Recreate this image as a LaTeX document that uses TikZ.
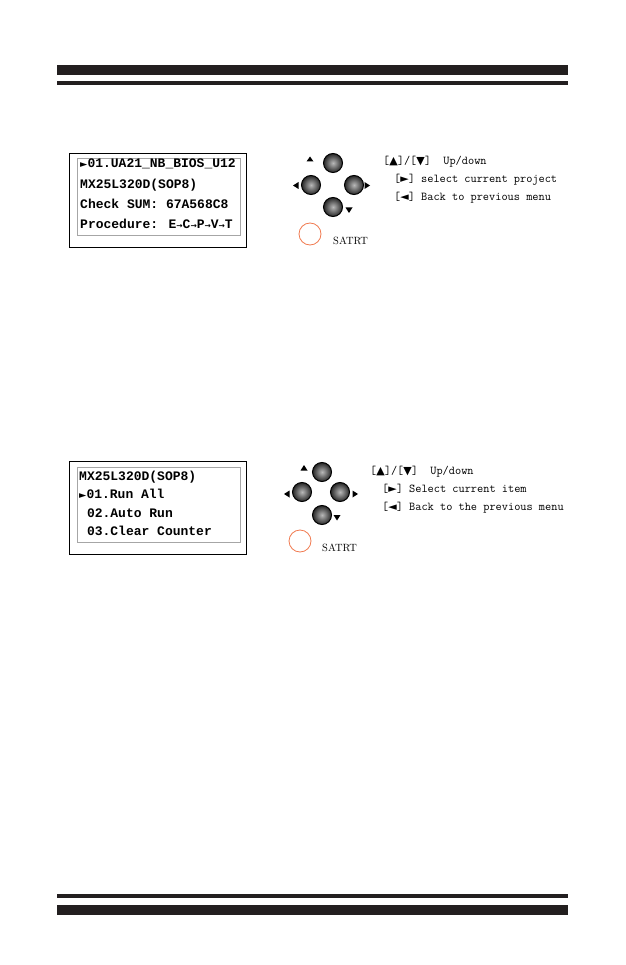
\documentclass[tikz,border=0pt]{standalone}
\usepackage{fontspec}
\newfontfamily\boxfont{Liberation Mono}
\newfontfamily\symfont{DejaVu Sans}
\definecolor{barc}{HTML}{231F20}
\definecolor{startc}{HTML}{F07A50}
\newcommand{\tri}[1]{{\symfont\fontsize{11}{11}\selectfont #1}}
\newcommand{\ltri}[1]{{\symfont\fontsize{9.5}{9.5}\selectfont #1}}
\newcommand{\arr}{{\symfont\bfseries\fontsize{7.5}{7.5}\selectfont\raisebox{0.8pt}{→}}}
\tikzset{
  bar/.style={fill=barc, draw=none},
  lcd/.style={anchor=base west, inner sep=0pt, font=\boxfont\bfseries\fontsize{13}{14}\selectfont},
  help/.style={anchor=base west, inner sep=0pt, font=\ttfamily\fontsize{12}{14}\selectfont},
  btn/.style={circle, minimum size=19pt, inner sep=0pt, draw=black, line width=1pt, inner color=gray!55, outer color=black!85},
  startbtn/.style={circle, minimum size=22pt, inner sep=0pt, draw=startc, line width=0.8pt},
  tip/.style={fill=black, draw=none},
  outbox/.style={draw=black, line width=0.9pt},
  inbox/.style={draw=gray!70, line width=0.7pt},
  satrt/.style={anchor=base west, inner sep=0pt, font=\rmfamily\fontsize{10.5}{12}\selectfont}
}
\begin{document}
\begin{tikzpicture}[x=1pt,y=-1pt]
\useasboundingbox (0,0) rectangle (625,965);
% header / footer bars
\fill[bar] (57,65) rectangle (568,75);
\fill[bar] (57,81.5) rectangle (568,85.5);
\fill[bar] (57,894) rectangle (568,898);
\fill[bar] (57,905) rectangle (568,915);

% ---------- panel 1 ----------
\draw[outbox] (69,153) rectangle (246,247);
\draw[inbox] (77,158) rectangle (240,235);
\node[lcd] (a1) at (80,168) {\ltri{►}01.UA21\_NB\_BIOS\_U12};
\node[lcd] (a2) at (80,189) {MX25L320D(SOP8)};
\node[lcd] (a3) at (80,209) {Check SUM: 67A568C8};
\node[lcd] (a4) at (80,229) {Procedure: E\arr C\arr P\arr V\arr T};

\node[btn] (u1) at (333,163) {};
\node[btn] (l1) at (311,185) {};
\node[btn] (r1) at (354,185) {};
\node[btn] (d1) at (333,207) {};
\fill[tip] (310,156.5) -- (313.5,161.5) -- (306.5,161.5) -- cycle;
\fill[tip] (293,185.5) -- (298.5,182) -- (298.5,189) -- cycle;
\fill[tip] (370,185.5) -- (364.5,182) -- (364.5,189) -- cycle;
\fill[tip] (345.5,207.5) -- (352.5,207.5) -- (349,213) -- cycle;
\node[startbtn] (s1) at (310,234) {};
\node[satrt] (t1) at (333,245) {SATRT};

\node[help] (h11) at (383,165) {[\tri{▲}]/[\tri{▼}]\ \ Up/down};
\node[help] (h12) at (394,183) {[\tri{►}] select current project};
\node[help] (h13) at (394,201) {[\tri{◄}] Back to previous menu};

% ---------- panel 2 ----------
\draw[outbox] (69,461) rectangle (246,554);
\draw[inbox] (77,467) rectangle (240,542);
\node[lcd] (b1) at (79,480) {MX25L320D(SOP8)};
\node[lcd] (b2) at (79,498) {\ltri{►}01.Run All};
\node[lcd] (b3) at (79,517) {\ 02.Auto Run};
\node[lcd] (b4) at (79,535) {\ 03.Clear Counter};

\node[btn] (u2) at (322,472) {};
\node[btn] (l2) at (302,492) {};
\node[btn] (r2) at (340,492) {};
\node[btn] (d2) at (322,515) {};
\fill[tip] (304,465) -- (307.5,470.5) -- (300.5,470.5) -- cycle;
\fill[tip] (284,494) -- (289.5,490.5) -- (289.5,497.5) -- cycle;
\fill[tip] (358,494) -- (352.5,490.5) -- (352.5,497.5) -- cycle;
\fill[tip] (333.5,515) -- (340.5,515) -- (337,520.5) -- cycle;
\node[startbtn] (s2) at (300,541) {};
\node[satrt] (t2) at (322,551) {SATRT};

\node[help] (h21) at (370,474) {[\tri{▲}]/[\tri{▼}]\ \ Up/down};
\node[help] (h22) at (382,492) {[\tri{►}] Select current item};
\node[help] (h23) at (382,510) {[\tri{◄}] Back to the previous menu};
\end{tikzpicture}
\end{document}
